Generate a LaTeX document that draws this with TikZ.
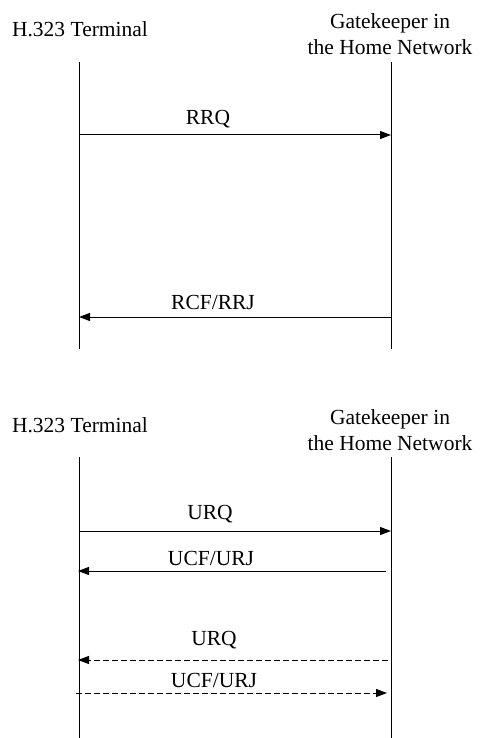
\documentclass[tikz,border=0pt]{standalone}
\usepackage{fontspec}
\setmainfont{Liberation Serif}
\usetikzlibrary{arrows.meta}

\begin{document}
\begin{tikzpicture}[x=1pt,y=-1pt,
  lifeline/.style={line width=1pt},
  msg/.style={line width=1pt,-{Triangle[length=11pt,width=8pt]}},
  dmsg/.style={msg,dash pattern=on 6pt off 3pt},
  lbl/.style={anchor=base,inner sep=0pt,font=\fontsize{21.5}{26}\selectfont,align=center}]
\useasboundingbox (0,0) rectangle (481,738);
% Registration
\node[lbl] (term1) at (80,37) {H.323 Terminal};
\node[lbl] (gk1) at (390,55) {Gatekeeper in\\the Home Network};
\coordinate (t1top) at (79,62);
\coordinate (t1bot) at (79,349);
\coordinate (g1top) at (391,62);
\coordinate (g1bot) at (391,349);
\draw[lifeline] (t1top) -- (t1bot);
\draw[lifeline] (g1top) -- (g1bot);
\coordinate (rrqA) at (79,135);
\coordinate (rrqB) at (391,135);
\draw[msg] (rrqA) -- (rrqB);
\node[lbl] (rrq) at (208,125) {RRQ};
\coordinate (rcfA) at (391,317);
\coordinate (rcfB) at (79,317);
\draw[msg] (rcfA) -- (rcfB);
\node[lbl] (rcf) at (213,309) {RCF/RRJ};
% Unregistration
\node[lbl] (term2) at (80,432) {H.323 Terminal};
\node[lbl] (gk2) at (390,450) {Gatekeeper in\\the Home Network};
\coordinate (t2top) at (79,457);
\coordinate (t2bot) at (79,738);
\coordinate (g2top) at (391,457);
\coordinate (g2bot) at (391,738);
\draw[lifeline] (t2top) -- (t2bot);
\draw[lifeline] (g2top) -- (g2bot);
\coordinate (urqA) at (79,531);
\coordinate (urqB) at (391,531);
\draw[msg] (urqA) -- (urqB);
\node[lbl] (urq) at (210,519) {URQ};
\coordinate (ucfA) at (386,571);
\coordinate (ucfB) at (78,571);
\draw[msg] (ucfA) -- (ucfB);
\node[lbl] (ucf) at (211,565) {UCF/URJ};
% Gatekeeper-initiated (dashed)
\coordinate (durqA) at (388,660);
\coordinate (durqB) at (78,660);
\draw[dmsg] (durqA) -- (durqB);
\node[lbl] (durq) at (214,645) {URQ};
\coordinate (ducfA) at (76,693);
\coordinate (ducfB) at (387,693);
\draw[dmsg] (ducfA) -- (ducfB);
\node[lbl] (ducf) at (214,687) {UCF/URJ};
\end{tikzpicture}
\end{document}
